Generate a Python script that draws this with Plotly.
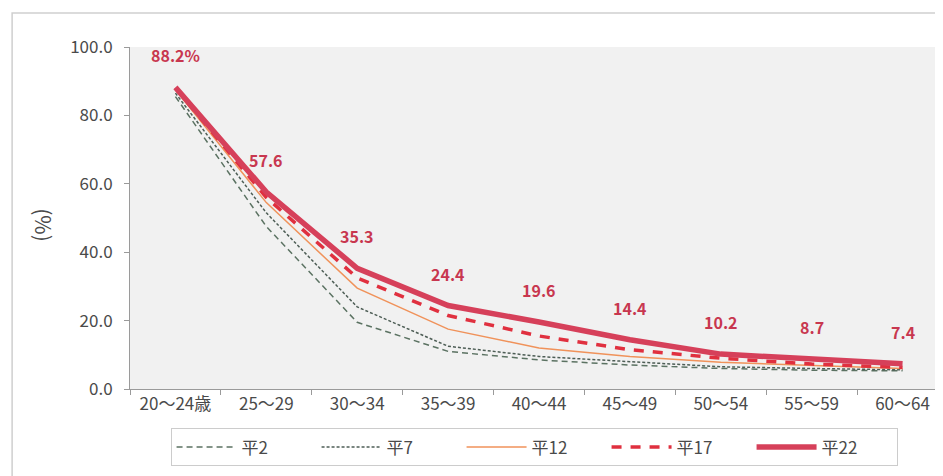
import plotly.graph_objects as go

# 年齢階級
categories = ["20〜24歳", "25〜29", "30〜34", "35〜39", "40〜44",
              "45〜49", "50〜54", "55〜59", "60〜64"]

# 未婚率 (%)
h2 = [85.5, 47.5, 19.5, 11.0, 8.5, 7.0, 6.0, 5.5, 5.3]
h7 = [86.5, 51.5, 24.0, 12.5, 9.5, 8.0, 6.5, 6.0, 5.6]
h12 = [87.5, 54.5, 29.5, 17.5, 12.0, 9.5, 7.8, 6.8, 6.0]
h17 = [88.0, 56.0, 32.5, 21.5, 15.5, 11.5, 9.0, 7.3, 6.3]
h22 = [88.2, 57.6, 35.3, 24.4, 19.6, 14.4, 10.2, 8.7, 7.4]
h22_labels = ["88.2%", "57.6", "35.3", "24.4", "19.6", "14.4", "10.2", "8.7", "7.4"]

FONT = "Noto Sans CJK JP"
LABEL_RED = "#c8374f"
TEXT = "#4a4a4a"

fig = go.Figure()
fig.add_trace(go.Scatter(x=categories, y=h2, name="平2", mode="lines",
                         line=dict(color="#5b7262", width=1.5, dash="6px,4px")))
fig.add_trace(go.Scatter(x=categories, y=h7, name="平7", mode="lines",
                         line=dict(color="#4d5d55", width=1.5, dash="3px,2px")))
fig.add_trace(go.Scatter(x=categories, y=h12, name="平12", mode="lines",
                         line=dict(color="#f0925a", width=1.5)))
fig.add_trace(go.Scatter(x=categories, y=h17, name="平17", mode="lines",
                         line=dict(color="#e0303f", width=3.5, dash="10px,9px")))
fig.add_trace(go.Scatter(x=categories, y=h22, name="平22", mode="lines",
                         line=dict(color="#d6405a", width=5.5)))

# 平22 data labels
for c, v, t in zip(categories, h22, h22_labels):
    fig.add_annotation(x=c, y=v, text=t, showarrow=False, yshift=32,
                       font=dict(family=FONT, size=16, color=LABEL_RED, weight="bold"))

# (%) vertical title
fig.add_annotation(xref="paper", yref="paper", x=-0.105, xanchor="center",
                   y=0.48, yanchor="middle",
                   text="(%)", textangle=90, showarrow=False,
                   font=dict(family=FONT, size=21, color=TEXT))

# outer frame
fig.add_shape(type="rect", xref="paper", yref="paper",
              x0=-0.145, x1=1.05, y0=-0.5, y1=1.0994,
              line=dict(color="#cfcfcf", width=1.5), layer="below")

# page body adds ~8px offset, so the figure is 8px smaller and shifted
fig.update_layout(
    width=935, height=468,
    margin=dict(l=122, r=0, t=39, b=87),
    paper_bgcolor="white",
    plot_bgcolor="#f1f1f1",
    font=dict(family=FONT, size=16, color=TEXT),
    showlegend=True,
    legend=dict(orientation="h", x=0.497, xanchor="center", y=-0.115, yanchor="top",
                bordercolor="#cccccc", borderwidth=1, bgcolor="white",
                itemwidth=60, entrywidth=70,
                font=dict(family=FONT, size=17, color=TEXT)),
)
fig.update_xaxes(range=[-0.5, 8.445], showline=True, linecolor="#9a9a9a", linewidth=1,
                 ticks="outside", tickson="boundaries", ticklen=5, tickcolor="#9a9a9a",
                 showgrid=False, tickfont=dict(size=17))
fig.update_yaxes(range=[0, 100], dtick=20, tickformat=".1f", showline=True,
                 linecolor="#9a9a9a", linewidth=1, ticks="outside", ticklen=5,
                 tickcolor="#9a9a9a", showgrid=False, zeroline=False,
                 ticklabelstandoff=8, tickfont=dict(size=17))

fig.write_html("out.html")
